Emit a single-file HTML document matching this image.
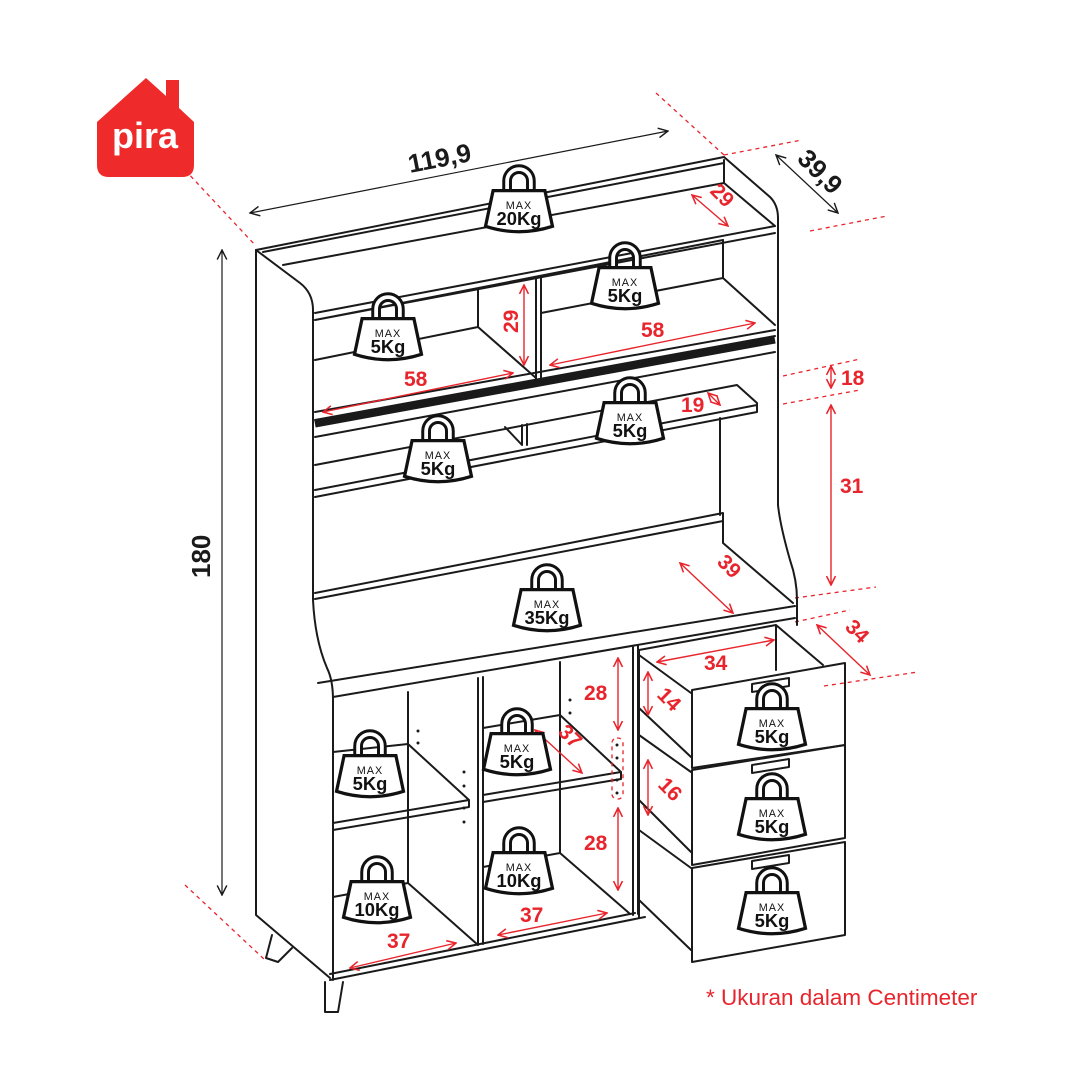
<!DOCTYPE html>
<html><head><meta charset="utf-8"><style>
html,body{margin:0;padding:0;background:#fff}
svg{display:block}
.k{fill:none;stroke:#1a1a1a;stroke-width:2;stroke-linejoin:round;stroke-linecap:round}
.r{fill:none;stroke:#e8242c;stroke-width:1.4}
.rd{fill:none;stroke:#e8242c;stroke-width:1.3;stroke-dasharray:4 4}
.rt{fill:#e8242c;font-family:"Liberation Sans",sans-serif;font-weight:bold;font-size:21px}
.bt{fill:#1a1a1a;font-family:"Liberation Sans",sans-serif;font-weight:bold;font-size:26px}
.wm{font-family:"Liberation Sans",sans-serif;font-size:10px;fill:#111;text-anchor:middle;letter-spacing:1px}
.wk{font-family:"Liberation Sans",sans-serif;font-size:17px;font-weight:bold;fill:#111;text-anchor:middle}
</style></head><body>
<svg width="1081" height="1080" viewBox="0 0 1081 1080" xmlns="http://www.w3.org/2000/svg">
<defs>
<marker id="ar" viewBox="0 0 10 10" refX="9" refY="5" markerWidth="8" markerHeight="8" orient="auto-start-reverse"><path d="M1,1 L9,5 L1,9" fill="none" stroke="#e8242c" stroke-width="1.4"/></marker>
<marker id="ak" viewBox="0 0 10 10" refX="9" refY="5" markerWidth="10" markerHeight="10" orient="auto-start-reverse"><path d="M1,1 L9,5 L1,9" fill="none" stroke="#1a1a1a" stroke-width="1.2"/></marker>
<g id="wt">
<path d="M-11,24 V12 a11,11 0 0 1 22,0 V24" fill="none" stroke="#111" stroke-width="9"/>
<path d="M-11,24 V12 a11,11 0 0 1 22,0 V24" fill="none" stroke="#fff" stroke-width="3.5"/>
<path d="M-24,21 L24,21 L31,54 Q0,64 -31,54 Z" fill="#fff" stroke="#111" stroke-width="3"/>
</g>
</defs>

<!-- logo -->
<path d="M97,122 L146,78 L166,96 L166,80 L179,80 L179,108 L194,122 V165 Q194,177 182,177 H109 Q97,177 97,165 Z" fill="#ee2a2a"/>
<text x="145" y="148" text-anchor="middle" fill="#fff" font-family="Liberation Sans,sans-serif" font-weight="bold" font-size="36">pira</text>

<!-- red dotted extension lines -->
<line class="rd" x1="185" y1="170" x2="255" y2="245"/>
<line class="rd" x1="656" y1="93" x2="724" y2="155"/>
<line class="rd" x1="724" y1="155" x2="802" y2="140"/>
<line class="rd" x1="810" y1="231" x2="887" y2="216"/>
<line class="rd" x1="783" y1="376" x2="860" y2="359"/>
<line class="rd" x1="783" y1="404" x2="860" y2="390"/>
<line class="rd" x1="795" y1="598" x2="876" y2="587"/>
<line class="rd" x1="795" y1="622" x2="850" y2="610"/>
<line class="rd" x1="824" y1="686" x2="918" y2="672"/>
<line class="rd" x1="185" y1="885" x2="265" y2="960"/>

<!-- black dims -->
<line x1="250" y1="213" x2="668" y2="131" stroke="#1a1a1a" stroke-width="1.2" marker-start="url(#ak)" marker-end="url(#ak)"/>
<text class="bt" transform="translate(410,173) rotate(-11)">119,9</text>
<line x1="776" y1="155" x2="838" y2="213" stroke="#1a1a1a" stroke-width="1.2" marker-start="url(#ak)" marker-end="url(#ak)"/>
<text class="bt" transform="translate(796,160) rotate(45)">39,9</text>
<line x1="222" y1="250" x2="222" y2="895" stroke="#1a1a1a" stroke-width="1.2" marker-start="url(#ak)" marker-end="url(#ak)"/>
<text class="bt" transform="translate(210,578) rotate(-90)">180</text>

<!-- cabinet outline -->
<path class="k" d="M256,250 L256,915 L330,978"/>
<path class="k" d="M256,250 L724,157 L770,197 Q778,205 778,218 L778,505 Q780,525 790,560 Q797,580 797,600 L797,625"/>
<path class="k" d="M256,250 L300,283 Q313,293 313,310 L313,600 Q315,640 327,668 Q333,680 333,700 L333,980"/>
<path class="k" d="M263,252 L724,163 M724,160 L724,183 L775,226"/>
<path class="k" d="M283,265 L724,183"/>
<path class="k" d="M315,313 L775,226 M315,320 L775,233 M315,320 L723,240"/>
<path class="k" d="M478,290 L478,327 L536,378 M315,360 L478,327 M536,278 L536,380 M541,277 L541,379"/>
<path class="k" d="M723,240 L723,278 L775,325 M541,313 L723,278"/>
<path class="k" d="M315,412 L775,330"/>
<path d="M315,424 L775,340" stroke="#1a1a1a" stroke-width="7"/>
<path class="k" d="M315,437 L775,352 M315,420 L775,336"/>
<path class="k" d="M315,465 L737,385 L757,403 L757,412 L315,497 M315,490 L757,405"/>
<path class="k" d="M505,427 L522,445 M522,425 L522,445 M527,424 L527,445"/>
<path class="k" d="M720,418 L720,515"/>
<path class="k" d="M315,593 L723,513 M315,599 L723,521 M723,513 L723,543 L793,603"/>
<path class="k" d="M318,683 L795,606 M333,697 L795,618"/>
<path class="k" d="M330,980 L645,917 M330,974 L635,913"/>
<path class="k" d="M325,982 L325,1012 L338,1012 L343,982"/>
<path class="k" d="M272,935 L266,958 L278,962 L292,948"/>
<path class="k" d="M478,678 L478,945 M483,677 L483,944"/>
<path class="k" d="M633,647 L633,915 M638,646 L638,914"/>
<path class="k" d="M333,752 L408,744 M408,692 L408,883 L478,945 M408,744 L469,800 L333,823 M333,830 L469,807 L469,800 M333,897 L408,883"/>
<path class="k" d="M483,728 L560,715 M560,662 L560,853 L629,913 M560,715 L621,772 L483,795 M483,802 L621,779 L621,772 M483,867 L560,853"/>
<g fill="#1a1a1a"><circle cx="418" cy="731" r="1.5"/><circle cx="418" cy="743" r="1.5"/><circle cx="464" cy="772" r="1.5"/><circle cx="464" cy="786" r="1.5"/><circle cx="464" cy="808" r="1.5"/><circle cx="464" cy="822" r="1.5"/><circle cx="570" cy="700" r="1.5"/><circle cx="570" cy="713" r="1.5"/><circle cx="617" cy="745" r="1.5"/><circle cx="617" cy="758" r="1.5"/><circle cx="617" cy="780" r="1.5"/><circle cx="617" cy="793" r="1.5"/></g>
<rect class="rd" x="612" y="738" width="11" height="61" rx="5"/>
<!-- drawers -->
<path class="k" d="M639,650 L776,625 L823,665 M776,625 L776,670 M639,655 L691,693 M639,708 L691,757 M639,650 L639,918"/>
<path class="k" d="M639,735 L691,772 M639,800 L691,852 M639,830 L691,868 M639,900 L691,950"/>
<path class="k" d="M692,690 L845,663 L845,745 L692,768 Z" fill="#fff"/>
<path class="k" d="M692,770 L845,745 L845,838 L692,865 Z" fill="#fff"/>
<path class="k" d="M692,868 L845,842 L845,935 L692,962 Z" fill="#fff"/>
<path class="k" d="M752,684 L789,678 L789,686 L752,692 Z M752,765 L789,759 L789,767 L752,773 Z M752,861 L789,855 L789,863 L752,869 Z"/>

<!-- red dims -->
<line class="r" x1="692" y1="195" x2="728" y2="226" marker-start="url(#ar)" marker-end="url(#ar)"/>
<text class="rt" transform="translate(709,192) rotate(45)">29</text>
<line class="r" x1="524" y1="285" x2="524" y2="365" marker-start="url(#ar)" marker-end="url(#ar)"/>
<text class="rt" transform="translate(518,333) rotate(-90)">29</text>
<line class="r" x1="550" y1="365" x2="755" y2="323" marker-start="url(#ar)" marker-end="url(#ar)"/>
<text class="rt" x="641" y="337">58</text>
<line class="r" x1="323" y1="412" x2="513" y2="373" marker-start="url(#ar)" marker-end="url(#ar)"/>
<text class="rt" x="404" y="386">58</text>
<text class="rt" x="681" y="412">19</text>
<line class="r" x1="708" y1="393" x2="720" y2="405" marker-start="url(#ar)" marker-end="url(#ar)"/>
<line class="r" x1="831" y1="366" x2="831" y2="388" marker-start="url(#ar)" marker-end="url(#ar)"/>
<text class="rt" x="841" y="385">18</text>
<line class="r" x1="831" y1="405" x2="831" y2="585" marker-start="url(#ar)" marker-end="url(#ar)"/>
<text class="rt" x="840" y="493">31</text>
<line class="r" x1="680" y1="563" x2="733" y2="613" marker-start="url(#ar)" marker-end="url(#ar)"/>
<text class="rt" transform="translate(716,563) rotate(45)">39</text>
<line class="r" x1="657" y1="662" x2="774" y2="640" marker-start="url(#ar)" marker-end="url(#ar)"/>
<text class="rt" x="704" y="670">34</text>
<line class="r" x1="817" y1="625" x2="870" y2="675" marker-start="url(#ar)" marker-end="url(#ar)"/>
<text class="rt" transform="translate(844,628) rotate(45)">34</text>
<line class="r" x1="648" y1="672" x2="648" y2="715" marker-start="url(#ar)" marker-end="url(#ar)"/>
<text class="rt" transform="translate(656,696) rotate(45)">14</text>
<line class="r" x1="648" y1="760" x2="648" y2="815" marker-start="url(#ar)" marker-end="url(#ar)"/>
<text class="rt" transform="translate(657,786) rotate(45)">16</text>
<line class="r" x1="618" y1="658" x2="618" y2="730" marker-start="url(#ar)" marker-end="url(#ar)"/>
<text class="rt" x="584" y="700">28</text>
<line class="r" x1="618" y1="808" x2="618" y2="890" marker-start="url(#ar)" marker-end="url(#ar)"/>
<text class="rt" x="584" y="850">28</text>
<line class="r" x1="535" y1="730" x2="582" y2="773" marker-start="url(#ar)" marker-end="url(#ar)"/>
<text class="rt" transform="translate(557,733) rotate(45)">37</text>
<line class="r" x1="498" y1="935" x2="607" y2="913" marker-start="url(#ar)" marker-end="url(#ar)"/>
<text class="rt" x="520" y="922">37</text>
<line class="r" x1="350" y1="968" x2="456" y2="943" marker-start="url(#ar)" marker-end="url(#ar)"/>
<text class="rt" x="387" y="948">37</text>

<!-- weights -->
<g transform="translate(519,168) scale(1.08)"><use href="#wt"/><text class="wm" y="38">MAX</text><text class="wk" y="53">20Kg</text></g>
<g transform="translate(625,245) scale(1.08)"><use href="#wt"/><text class="wm" y="38">MAX</text><text class="wk" y="53">5Kg</text></g>
<g transform="translate(388,296) scale(1.08)"><use href="#wt"/><text class="wm" y="38">MAX</text><text class="wk" y="53">5Kg</text></g>
<g transform="translate(630,380) scale(1.08)"><use href="#wt"/><text class="wm" y="38">MAX</text><text class="wk" y="53">5Kg</text></g>
<g transform="translate(438,418) scale(1.08)"><use href="#wt"/><text class="wm" y="38">MAX</text><text class="wk" y="53">5Kg</text></g>
<g transform="translate(547,567) scale(1.08)"><use href="#wt"/><text class="wm" y="38">MAX</text><text class="wk" y="53">35Kg</text></g>
<g transform="translate(370,733) scale(1.08)"><use href="#wt"/><text class="wm" y="38">MAX</text><text class="wk" y="53">5Kg</text></g>
<g transform="translate(517,711) scale(1.08)"><use href="#wt"/><text class="wm" y="38">MAX</text><text class="wk" y="53">5Kg</text></g>
<g transform="translate(377,859) scale(1.08)"><use href="#wt"/><text class="wm" y="38">MAX</text><text class="wk" y="53">10Kg</text></g>
<g transform="translate(519,830) scale(1.08)"><use href="#wt"/><text class="wm" y="38">MAX</text><text class="wk" y="53">10Kg</text></g>
<g transform="translate(772,686) scale(1.08)"><use href="#wt"/><text class="wm" y="38">MAX</text><text class="wk" y="53">5Kg</text></g>
<g transform="translate(772,776) scale(1.08)"><use href="#wt"/><text class="wm" y="38">MAX</text><text class="wk" y="53">5Kg</text></g>
<g transform="translate(772,870) scale(1.08)"><use href="#wt"/><text class="wm" y="38">MAX</text><text class="wk" y="53">5Kg</text></g>

<text x="706" y="1005" fill="#e8242c" font-family="Liberation Sans,sans-serif" font-size="22.5">* Ukuran dalam Centimeter</text>
</svg>
</body></html>
